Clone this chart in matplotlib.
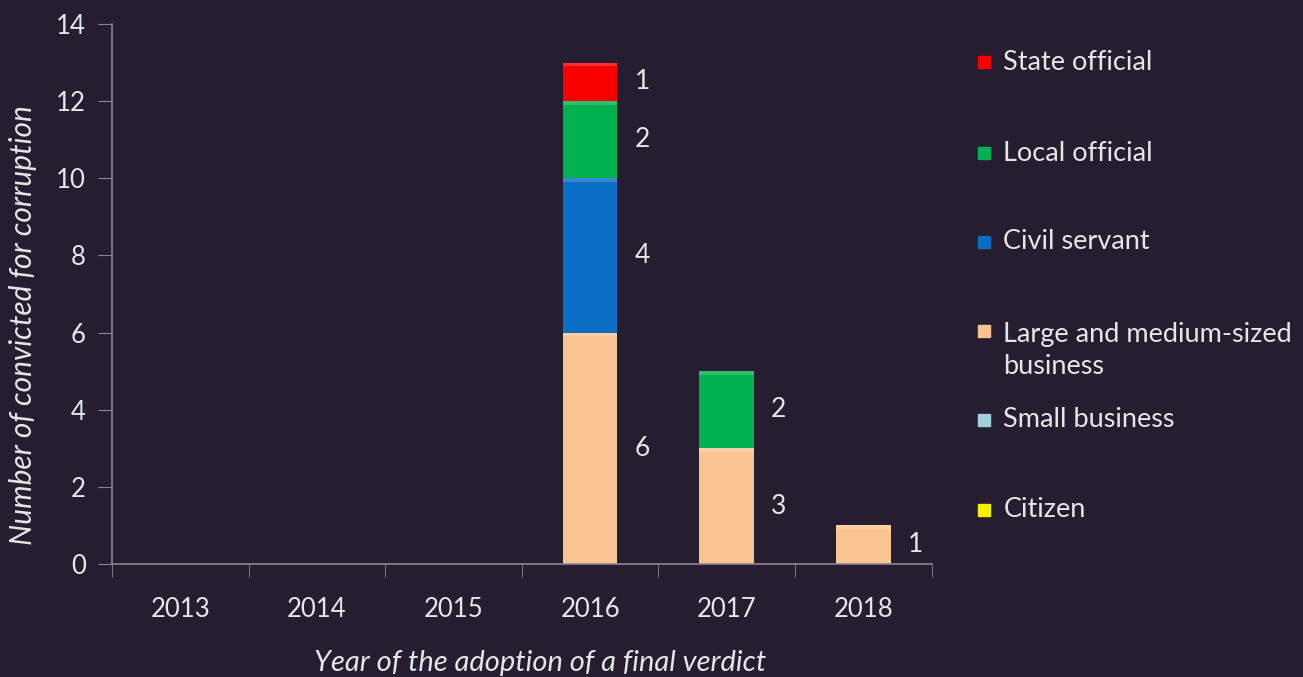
import numpy as np
import matplotlib
matplotlib.use('Agg')
import matplotlib.pyplot as plt
from matplotlib.patches import Rectangle

# data
years = ['2013', '2014', '2015', '2016', '2017', '2018']
citizen = [0, 0, 0, 0, 0, 0]
small_business = [0, 0, 0, 0, 0, 0]
large_business = [0, 0, 0, 6, 3, 1]
civil_servant = [0, 0, 0, 4, 0, 0]
local_official = [0, 0, 0, 2, 2, 0]
state_official = [0, 0, 0, 1, 0, 0]

series = [
    ('Citizen', citizen, '#f5f000'),
    ('Small business', small_business, '#9fd0dc'),
    ('Large and medium-sized\nbusiness', large_business, '#f9c491'),
    ('Civil servant', civil_servant, '#0a6fc4'),
    ('Local official', local_official, '#00b14f'),
    ('State official', state_official, '#f80000'),
]

bg = '#261e30'
txt = '#e6e6e6'
axcol = '#8a8690'
plt.rcParams['font.family'] = ['Lato', 'DejaVu Sans']

fig = plt.figure(figsize=(13.03, 6.77), dpi=100, facecolor=bg)
ax = fig.add_axes([0.086, 0.167, 0.629, 0.7976], facecolor=bg)

x = np.arange(len(years))
bottom = np.zeros(len(years))
for name, vals, col in series:
    vals = np.array(vals, dtype=float)
    ax.bar(x, vals, 0.4, bottom=bottom, color=col, edgecolor='none')
    # soft bevel highlight on top of each segment
    ax.bar(x, np.where(vals > 0, 0.1, 0), 0.4, bottom=bottom + vals - 0.1,
           color='white', alpha=0.18, edgecolor='none')
    for i in range(len(years)):
        if vals[i] > 0:
            ax.text(x[i] + 0.38, bottom[i] + vals[i] / 2, '%d' % vals[i],
                    color=txt, fontsize=19, ha='center', va='center')
    bottom += vals

ax.set_xlim(-0.5, len(years) - 0.5)
ax.set_ylim(0, 14)
ax.set_yticks(range(0, 15, 2))
ax.set_xticks(x)
ax.set_xticklabels(years)
ax.set_xticks(np.arange(-0.5, len(years), 1), minor=True)
ax.tick_params(axis='x', which='major', length=0, pad=24, labelsize=18.5, labelcolor=txt)
ax.tick_params(axis='x', which='minor', length=9, color=axcol, direction='out')
ax.tick_params(axis='y', length=10, color=axcol, labelsize=18.5, labelcolor=txt, pad=9)
for s in ['top', 'right']:
    ax.spines[s].set_visible(False)
for s in ['left', 'bottom']:
    ax.spines[s].set_color(axcol)
    ax.spines[s].set_linewidth(1.2)

ax.set_ylabel('Number of convicted for corruption', fontsize=21.5, style='italic',
              color=txt, va='center')
ax.yaxis.set_label_coords(-0.109, 0.443)
ax.set_xlabel('Year of the adoption of a final verdict', fontsize=21, style='italic',
              color=txt, va='center')
ax.xaxis.set_label_coords(0.522, -0.183)

# legend drawn by hand so entries keep the reference spacing
leg_y = [0.908, 0.774, 0.643, 0.482, 0.380, 0.247]
for (name, vals, col), ly in zip(reversed(series), leg_y):
    sy = ly + (0.029 if '\n' in name else 0)
    fig.patches.append(Rectangle((0.7505, sy - 0.009), 0.0092, 0.0177, color=col,
                                 transform=fig.transFigure, figure=fig))
    fig.text(0.770, ly, name, color=txt, fontsize=19.5, va='center', linespacing=1.38)

fig.savefig('out.png', dpi=100, facecolor=bg)
